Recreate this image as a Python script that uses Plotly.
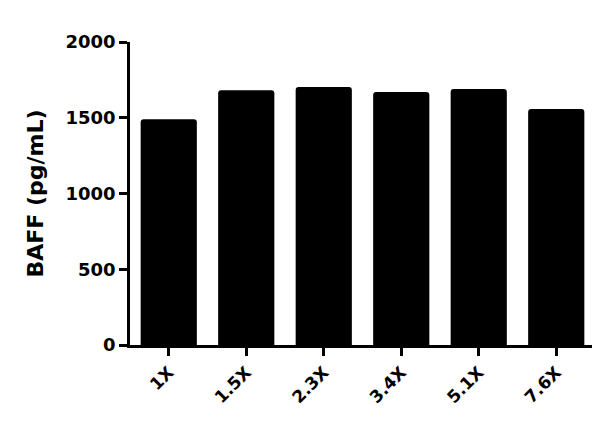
import plotly.graph_objects as go

categories = ["1X", "1.5X", "2.3X", "3.4X", "5.1X", "7.6X"]
values = [1490, 1681, 1703, 1670, 1690, 1558]
y_ticks = [0, 500, 1000, 1500, 2000]

FAM = "DejaVu Sans, Arial, sans-serif"

fig = go.Figure(go.Bar(
    x=categories, y=values,
    marker=dict(color="black", line=dict(width=0)),
    width=0.725,
))

fig.update_layout(
    width=600, height=432,
    margin=dict(l=122, r=13, t=34, b=95),
    plot_bgcolor="white", paper_bgcolor="white",
    showlegend=False,
    barcornerradius=3,
    font=dict(family=FAM, size=18, color="black"),
)
fig.update_xaxes(
    range=[-0.5, 5.5], automargin=False,
    showline=True, linecolor="black", linewidth=2.5,
    ticks="outside", ticklen=8, tickwidth=2.5, tickcolor="black",
    tickangle=-45, tickfont=dict(family=FAM, size=17, color="black", weight="bold"),
    showgrid=False, zeroline=False,
)
fig.update_yaxes(
    range=[0, 2000], tickvals=y_ticks, automargin=False,
    showline=True, linecolor="black", linewidth=2.5,
    ticks="outside", ticklen=8, tickwidth=2.5, tickcolor="black",
    tickfont=dict(family=FAM, size=18, color="black", weight="bold"),
    title=dict(text="BAFF (pg/mL)", font=dict(family=FAM, size=22, color="black", weight="bold"), standoff=16),
    showgrid=False, zeroline=False,
)

fig.write_html("out.html")
